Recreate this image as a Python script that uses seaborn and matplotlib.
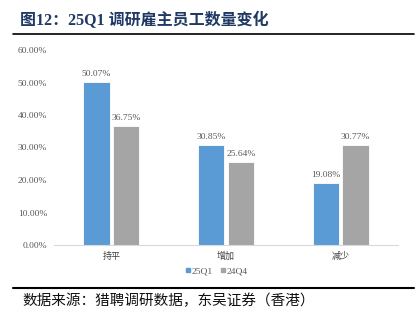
import matplotlib
matplotlib.use("Agg")
import matplotlib.pyplot as plt
import seaborn as sns
import pandas as pd
from matplotlib.lines import Line2D

categories = ["持平", "增加", "减少"]
series_names = ["25Q1", "24Q4"]
values_25q1 = [50.07, 30.85, 19.08]
values_24q4 = [36.75, 25.64, 30.77]
yticks = [0, 10, 20, 30, 40, 50, 60]

colors = ["#5B9BD5", "#A5A5A5"]

df = pd.DataFrame({
    "cat": categories * 2,
    "series": [series_names[0]] * 3 + [series_names[1]] * 3,
    "val": values_25q1 + values_24q4,
})

sns.set_style("white")
plt.rcParams['font.family'] = ['Liberation Serif', 'Noto Sans CJK SC', 'DejaVu Sans']

fig = plt.figure(figsize=(4.18, 3.26), dpi=100)
W, H = 418, 326
ax = fig.add_axes([54 / W, 1 - 245 / H, (398 - 54) / W, (245 - 50) / H])

sns.barplot(data=df, x="cat", y="val", hue="series", palette=colors,
            saturation=1, width=0.52, gap=0.12, ax=ax, legend=False,
            edgecolor="white", linewidth=0.6)

ax.set_ylim(0, 60)
ax.set_xlim(-0.5, 2.5)
ax.set_yticks(yticks)
ax.set_yticklabels([f"{v:.2f}%" for v in yticks], fontsize=6.8, color="#595959",
                   family=['Liberation Serif'])
ax.set_xticks(range(3))
ax.set_xticklabels(categories, fontsize=6.5, color="#404040", family=['Noto Sans CJK SC'])
ax.tick_params(axis='x', length=0, pad=5)
ax.tick_params(axis='y', length=0, pad=5)
ax.set_xlabel("")
ax.set_ylabel("")
for s in ["top", "right", "left"]:
    ax.spines[s].set_visible(False)
ax.spines["bottom"].set_color("#D9D9D9")
ax.spines["bottom"].set_linewidth(0.8)

for cont in ax.containers:
    for bar in cont:
        h = bar.get_height()
        ax.text(bar.get_x() + bar.get_width() / 2, h + 1.2, f"{h:.2f}%",
                ha="center", va="bottom", fontsize=6.8, color="#595959",
                family=['Liberation Serif'])

handles = [Line2D([0], [0], marker='s', linestyle='', markersize=3.5,
                  markerfacecolor=c, markeredgecolor=c) for c in colors]
fig.legend(handles, series_names, loc="center", bbox_to_anchor=(215 / W, 1 - 271 / H),
           ncol=2, frameon=False, handletextpad=-0.2, columnspacing=0.5,
           handlelength=1.2, labelcolor="#595959",
           prop={'family': 'Liberation Serif', 'size': 6.8})

fig.text(20 / W, 1 - 20 / H, "图12：25Q1 调研雇主员工数量变化", fontsize=11.5,
         fontweight="bold", color="#1F3864", va="center", ha="left",
         family=['Liberation Serif', 'Noto Sans CJK SC'])
fig.add_artist(Line2D([13 / W, 414 / W], [1 - 34 / H, 1 - 34 / H], color="black", lw=1.2))
fig.add_artist(Line2D([13 / W, 414 / W], [1 - 288 / H, 1 - 288 / H], color="black", lw=1.5))
fig.text(22 / W, 1 - 301 / H, "数据来源：猎聘调研数据，东吴证券（香港）", fontsize=10.5,
         color="#111111", va="center", ha="left", family=['Noto Sans CJK SC'])

fig.savefig("out.png", dpi=100)
